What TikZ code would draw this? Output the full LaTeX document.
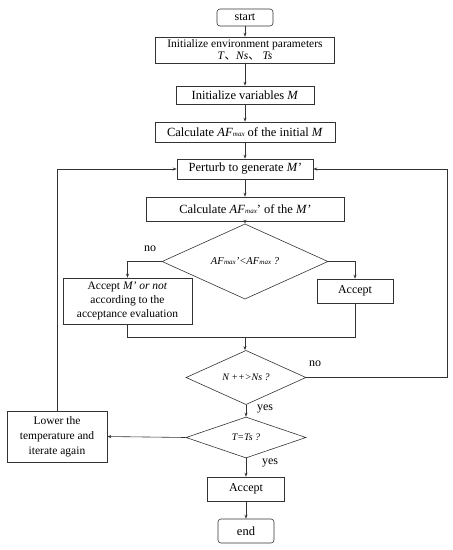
\documentclass[tikz,border=0pt]{standalone}
\usepackage{fontspec}
\setmainfont{Liberation Serif}
\newfontfamily\cjk{Noto Sans CJK SC}
\usetikzlibrary{shapes.geometric,arrows.meta}
\newcommand{\AFm}{\textit{AF\kern0.3pt{\scriptsize max}}}
\begin{document}
\begin{tikzpicture}[x=1pt,y=-1pt,
  line width=0.6pt, draw=black!80,
  box/.style={draw=black!80, rectangle, inner sep=0pt, align=center, font=\fontsize{12.5}{14}\selectfont},
  term/.style={box, rounded corners=3pt},
  dec/.style={draw=black!80, diamond, inner sep=0pt, font=\fontsize{10.5}{12}\selectfont\itshape},
  lbl/.style={font=\fontsize{12}{14}\selectfont},
  arr/.style={-{Stealth[length=4pt,width=3pt]}, draw=black!80}]
\useasboundingbox (0,0) rectangle (453,550);
\node[term, minimum width=56pt, minimum height=17pt, font=\fontsize{12}{14}\selectfont] (start) at (245,17.5) {start};
\node[box, minimum width=179pt, minimum height=26pt, font=\fontsize{11.5}{11.5}\selectfont] (env) at (245,50) {Initialize environment parameters\\\textit{T}{\cjk 、}\textit{Ns}{\cjk 、} \textit{Ts}};
\node[box, minimum width=138pt, minimum height=18pt] (vars) at (245,95) {Initialize variables \textit{M}};
\node[box, minimum width=180pt, minimum height=20pt] (calc0) at (245,132) {Calculate \AFm{} of the initial \textit{M}};
\node[box, minimum width=136pt, minimum height=20pt] (pert) at (245,169) {Perturb to generate \textit{M'}};
\node[box, minimum width=198pt, minimum height=24pt] (calc1) at (245,209) {Calculate \AFm' of the \textit{M'}};
\node[dec, minimum width=166pt, minimum height=45pt] (d1) at (245,261.5) {\AFm'<\AFm{} ?};
\node[box, minimum width=129pt, minimum height=46pt, font=\fontsize{11.5}{14}\selectfont] (accM) at (127.5,301) {Accept \textit{M' or not}\\according to the\\acceptance evaluation};
\node[box, minimum width=76pt, minimum height=24pt, font=\fontsize{12}{14}\selectfont] (accR) at (355,291) {Accept};
\node[dec, minimum width=120pt, minimum height=41pt, font=\fontsize{10}{12}\selectfont\itshape] (d2) at (246,377.5) {N ++>Ns ?};
\node[box, minimum width=100pt, minimum height=51pt, font=\fontsize{11.5}{15}\selectfont] (low) at (57,436.5) {Lower the\\temperature and\\iterate again};
\node[dec, minimum width=120pt, minimum height=41pt, font=\fontsize{10}{12}\selectfont\itshape] (d3) at (246,437.5) {T=Ts ?};
\node[box, minimum width=77pt, minimum height=24pt, font=\fontsize{12}{14}\selectfont] (accF) at (246,489) {Accept};
\node[term, minimum width=56pt, minimum height=24pt, font=\fontsize{12.5}{14}\selectfont] (end) at (246,531) {end};
\coordinate (m) at (245,337);
\coordinate (R) at (447,169);
\draw[arr] (start) -- (env);
\draw[arr] (env) -- (vars);
\draw[arr] (vars) -- (calc0);
\draw[arr] (calc0) -- (pert);
\draw[arr] (pert) -- (calc1);
\draw[arr] (calc1) -- (d1);
\draw[arr] (d1.west) -| (accM.north);
\draw[arr] (d1.east) -| (accR.north);
\draw (accM.south) |- (accR.south |- m) -- (accR.south);
\draw[arr] (m) -- (m |- d2.north);
\draw[arr] (d2.east) -| (R) -- (pert.east);
\draw[arr] (d2) -- (d3);
\draw[arr] (d3.west) -- (low.east);
\draw[arr] (low.north) |- (pert.west);
\draw[arr] (d3) -- (accF);
\draw[arr] (accF) -- (end);
\node[lbl] (no1) at (150,249) {no};
\node[lbl] (no2) at (315,364) {no};
\node[lbl] (yes1) at (265,409) {yes};
\node[lbl] (yes2) at (270,463) {yes};
\end{tikzpicture}
\end{document}
